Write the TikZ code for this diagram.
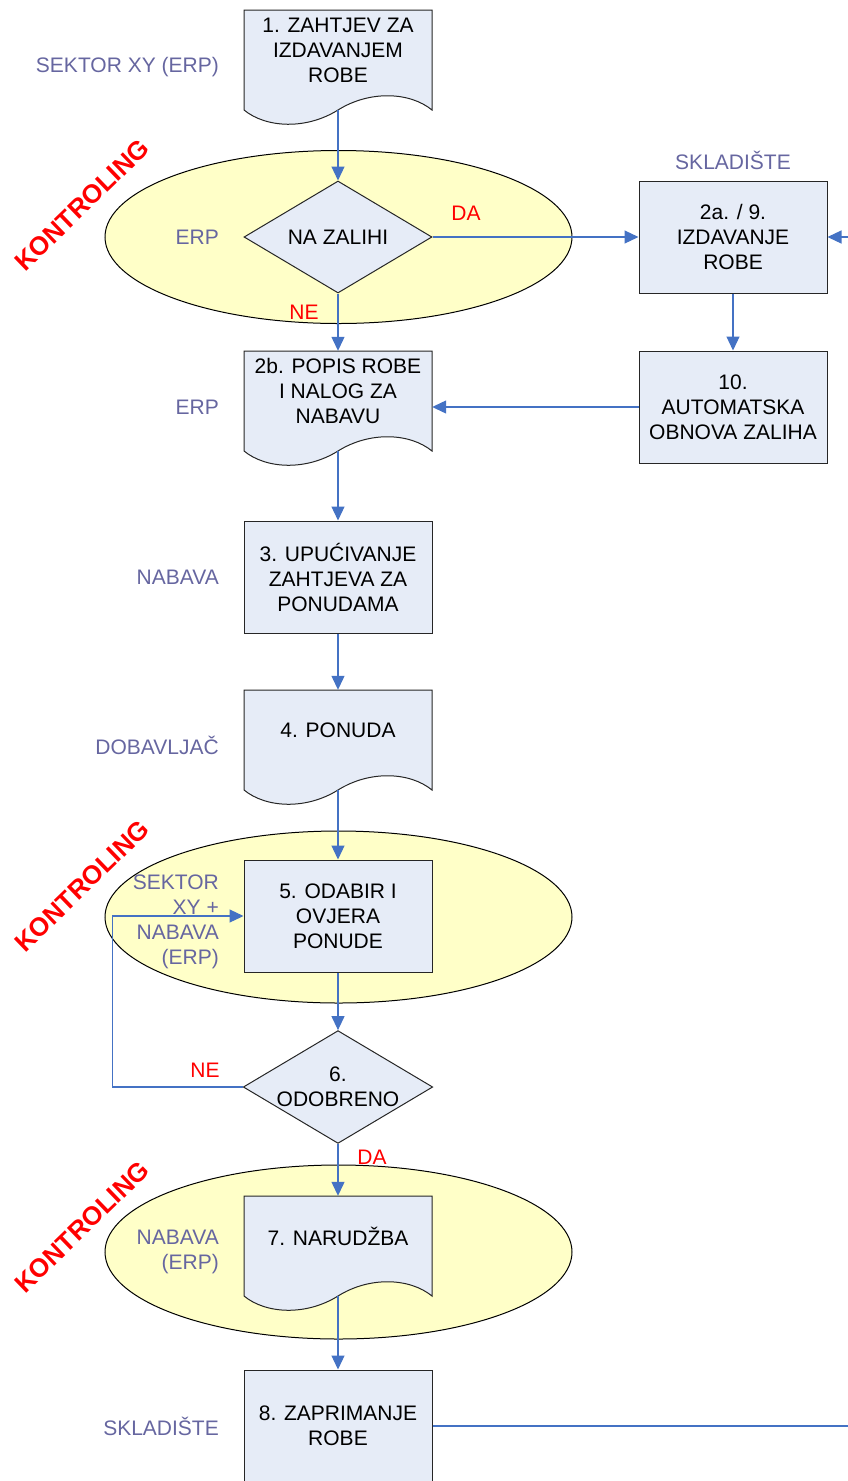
\documentclass[tikz,border=0pt]{standalone}
\usepackage{fontspec}
\setmainfont{Liberation Sans}
\usepackage{tikz}
\usetikzlibrary{shapes.geometric,arrows.meta}

\definecolor{boxfill}{RGB}{230,236,247}
\definecolor{zonefill}{RGB}{255,255,200}
\definecolor{lanegray}{RGB}{102,102,160}
\definecolor{flowblue}{RGB}{68,114,196}

\tikzset{
  txt/.style = {font=\fontsize{21}{25}\selectfont},
  box/.style = {rectangle, draw=black!85, line width=1pt, fill=boxfill, minimum width=188pt, minimum height=112pt, inner sep=0pt, align=center, txt},
  docbox/.style = {rectangle, minimum width=188pt, minimum height=100pt, text depth=20pt, inner sep=0pt, align=center, txt},
  docline/.style = {draw=black!85, line width=1pt, fill=boxfill},
  decision/.style = {diamond, draw=black!85, line width=1pt, fill=boxfill, aspect=1.68, minimum width=188pt, minimum height=112pt, inner sep=0pt, align=center, txt},
  lane/.style = {text=lanegray, align=right, anchor=east, inner sep=0pt, txt},
  answer/.style = {text=red, inner sep=0pt, txt},
  kontrol/.style = {text=red, rotate=44, inner sep=0pt, font=\bfseries\fontsize{26}{30}\selectfont},
  zone/.style = {fill=zonefill, draw=black, line width=1pt},
  flow/.style = {draw=flowblue, line width=1.2pt, -{Triangle[length=14pt,width=13pt]}}
}

% document shape: centre x, top y
\newcommand{\docshape}[2]{%
  \draw [docline] ({#1-94},#2) -- ({#1+94},#2) -- ({#1+94},{#2+100})
    .. controls ({#1+72},{#2+82}) and ({#1+32},{#2+80}) .. (#1,{#2+100})
    .. controls ({#1-32},{#2+120}) and ({#1-72},{#2+118}) .. ({#1-94},{#2+100}) -- cycle;}

\begin{document}
\begin{tikzpicture}[x=1pt, y=-1pt]
        \path [use as bounding box] (0,0) rectangle (848,1481);
        \clip (0,0) rectangle (848,1481);

        % kontroling zones
        \draw [zone] (338.5,237) ellipse [x radius=233.5, y radius=86.5];
        \draw [zone] (338.5,917) ellipse [x radius=233.5, y radius=86];
        \draw [zone] (338.5,1252) ellipse [x radius=233.5, y radius=87];
        \node (kontrola) at (82,205) [kontrol] {KONTROLING};
        \node (kontrolb) at (82,886) [kontrol] {KONTROLING};
        \node (kontrolc) at (82,1227) [kontrol] {KONTROLING};

        % documents
        \docshape{338}{10}
        \docshape{338}{351}
        \docshape{338}{690}
        \docshape{338}{1196}

        % steps
        \node (zahtjev) at (338,60) [docbox] {1. ZAHTJEV ZA\\IZDAVANJEM\\ROBE};
        \node (zaliha) at (338,237) [decision] {NA ZALIHI};
        \node (izdavanje) at (733,237) [box] {2a. / 9.\\IZDAVANJE\\ROBE};
        \node (obnova) at (733,407) [box] {10.\\AUTOMATSKA\\OBNOVA ZALIHA};
        \node (popis) at (338,401) [docbox] {2b. POPIS ROBE\\I NALOG ZA\\NABAVU};
        \node (upucivanje) at (338,577) [box] {3. UPUĆIVANJE\\ZAHTJEVA ZA\\PONUDAMA};
        \node (ponuda) at (338,740) [docbox] {4. PONUDA};
        \node (odabir) at (338,916) [box] {5. ODABIR I\\OVJERA\\PONUDE};
        \node (odobreno) at (338,1087) [decision] {6.\\ODOBRENO};
        \node (narudzba) at (338,1246) [docbox] {7. NARUDŽBA};
        \node (zaprimanje) at (338,1426) [box] {8. ZAPRIMANJE\\ROBE};

        % lanes
        \node (sektor) at (219,67) [lane] {SEKTOR XY (ERP)};
        \node (erpa) at (219,237) [lane] {ERP};
        \node (skladistea) at (733,160) [lane, anchor=center] {SKLADIŠTE};
        \node (erpb) at (219,407) [lane] {ERP};
        \node (nabava) at (219,577) [lane] {NABAVA};
        \node (dobavljac) at (219,745) [lane] {DOBAVLJAČ};
        \node (sektornabava) at (219,922) [lane] {SEKTOR\\XY +\\NABAVA\\(ERP)};
        \node (nabavaerp) at (219,1252) [lane] {NABAVA\\(ERP)};
        \node (skladisteb) at (219,1426) [lane] {SKLADIŠTE};

        % answers
        \node (da1) at (466,213) [answer] {DA};
        \node (ne1) at (304,312) [answer] {NE};
        \node (ne2) at (205,1070) [answer] {NE};
        \node (da2) at (372,1157) [answer] {DA};

        % flow
        \draw [flow] (zahtjev) -- (zaliha);
        \draw [flow] (zaliha) -- (izdavanje);
        \draw [flow] (zaliha) -- (popis);
        \draw [flow] (izdavanje) -- (obnova);
        \draw [flow] (obnova.west) -- (obnova.west -| popis.east);
        \draw [flow] (popis.south) -- (upucivanje);
        \draw [flow] (upucivanje) -- (ponuda.north);
        \draw [flow] (ponuda.south) -- (odabir);
        \draw [flow] (odabir) -- (odobreno);
        \draw [flow] (odobreno.west) -- ++(-130,0) |- (odabir.west);
        \draw [flow] (odobreno) -- (narudzba.north);
        \draw [flow] (narudzba.south) -- (zaprimanje);
        \draw [flow] (zaprimanje.east) -- ++(460,0) |- (izdavanje.east);
    \end{tikzpicture}
\end{document}
